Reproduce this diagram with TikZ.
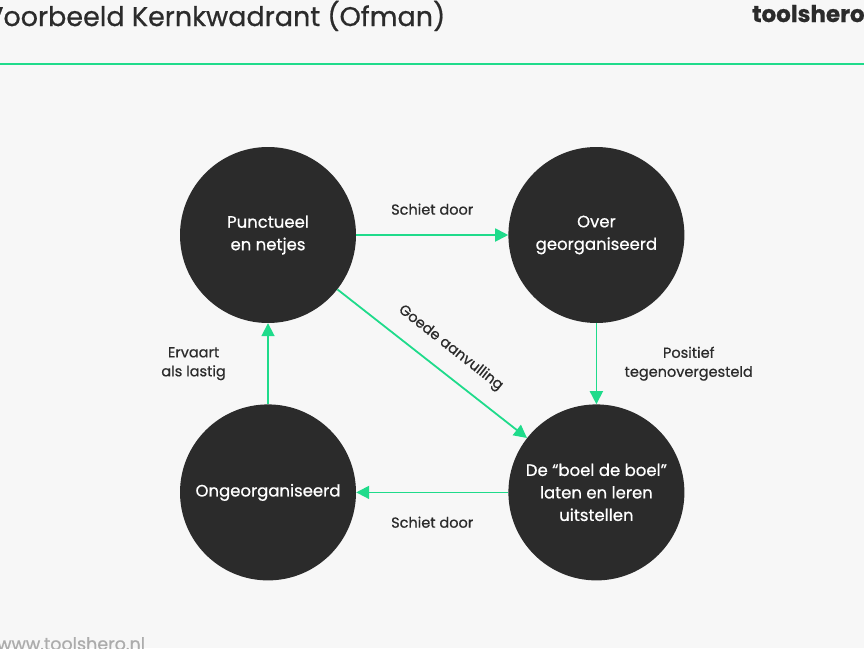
\documentclass[tikz,border=0pt]{standalone}
\usepackage{fontspec}
\setmainfont{Poppins}[FakeBold=0.7]
\usetikzlibrary{shapes,arrows,arrows.meta,positioning}
\definecolor{bggray}{HTML}{F7F7F7}
\definecolor{circlegray}{HTML}{2B2B2B}
\definecolor{heroGreen}{HTML}{1FDB8B}
\definecolor{textgray}{HTML}{2B2B2B}
\tikzstyle{kwadrant} = [circle, fill=circlegray, text=white, minimum size=176pt, inner sep=0pt, align=center, font=\fontsize{16.5}{22.5}\selectfont]
\tikzstyle{label} = [text=textgray, align=center, font=\fontsize{14.5}{19}\selectfont]
\tikzstyle{line} = [draw=heroGreen, line width=1.8pt, -{Triangle[length=13pt,width=13pt]}]

\begin{document}
\begin{tikzpicture}[x=1pt, y=-1pt]
    \fill[bggray] (0,0) rectangle (864,648);
    \useasboundingbox (0,0) rectangle (864,648);
    % header
    \node [anchor=base west, text=textgray, font=\fontsize{27}{30}\selectfont, inner sep=0pt] (titel) at (-15,26) {Voorbeeld Kernkwadrant (Ofman)};
    \node [anchor=base west, text=textgray, font=\fontsize{23}{26}\bfseries, inner sep=0pt] (logo) at (752,22) {toolshero};
    \draw [heroGreen, line width=2pt] (0,64) -- (864,64);
    \node [anchor=base west, text=gray!65, font=\fontsize{17.5}{20}\selectfont, inner sep=0pt] (url) at (-3,650) {www.toolshero.nl};
    % kwadranten
    \node [kwadrant] (punct) at (268,235) {Punctueel\\en netjes};
    \node [kwadrant, right=152pt of punct] (over) {Over\\georganiseerd};
    \node [kwadrant, below=81pt of over] (boel) {De \textquotedblleft boel de boel\textquotedblright\\laten en leren\\uitstellen};
    \node [kwadrant, left=152pt of boel] (ongeorg) {Ongeorganiseerd};
    % pijlen
    \path [line] (punct) -- node[label, above=16pt] (schiet1) {Schiet door} (over);
    \path [line] (over) -- node[label, right=24pt] (positief) {Positief\\tegenovergesteld} (boel);
    \path [line] (boel) -- node[label, below=20pt] (schiet2) {Schiet door} (ongeorg);
    \path [line] (ongeorg) -- node[label, left=38pt] (ervaart) {Ervaart\\als lastig} (punct);
    \path [line] (punct) -- node[label, sloped, above=12pt, pos=0.52] (goede) {Goede aanvulling} (boel);
\end{tikzpicture}
\end{document}
